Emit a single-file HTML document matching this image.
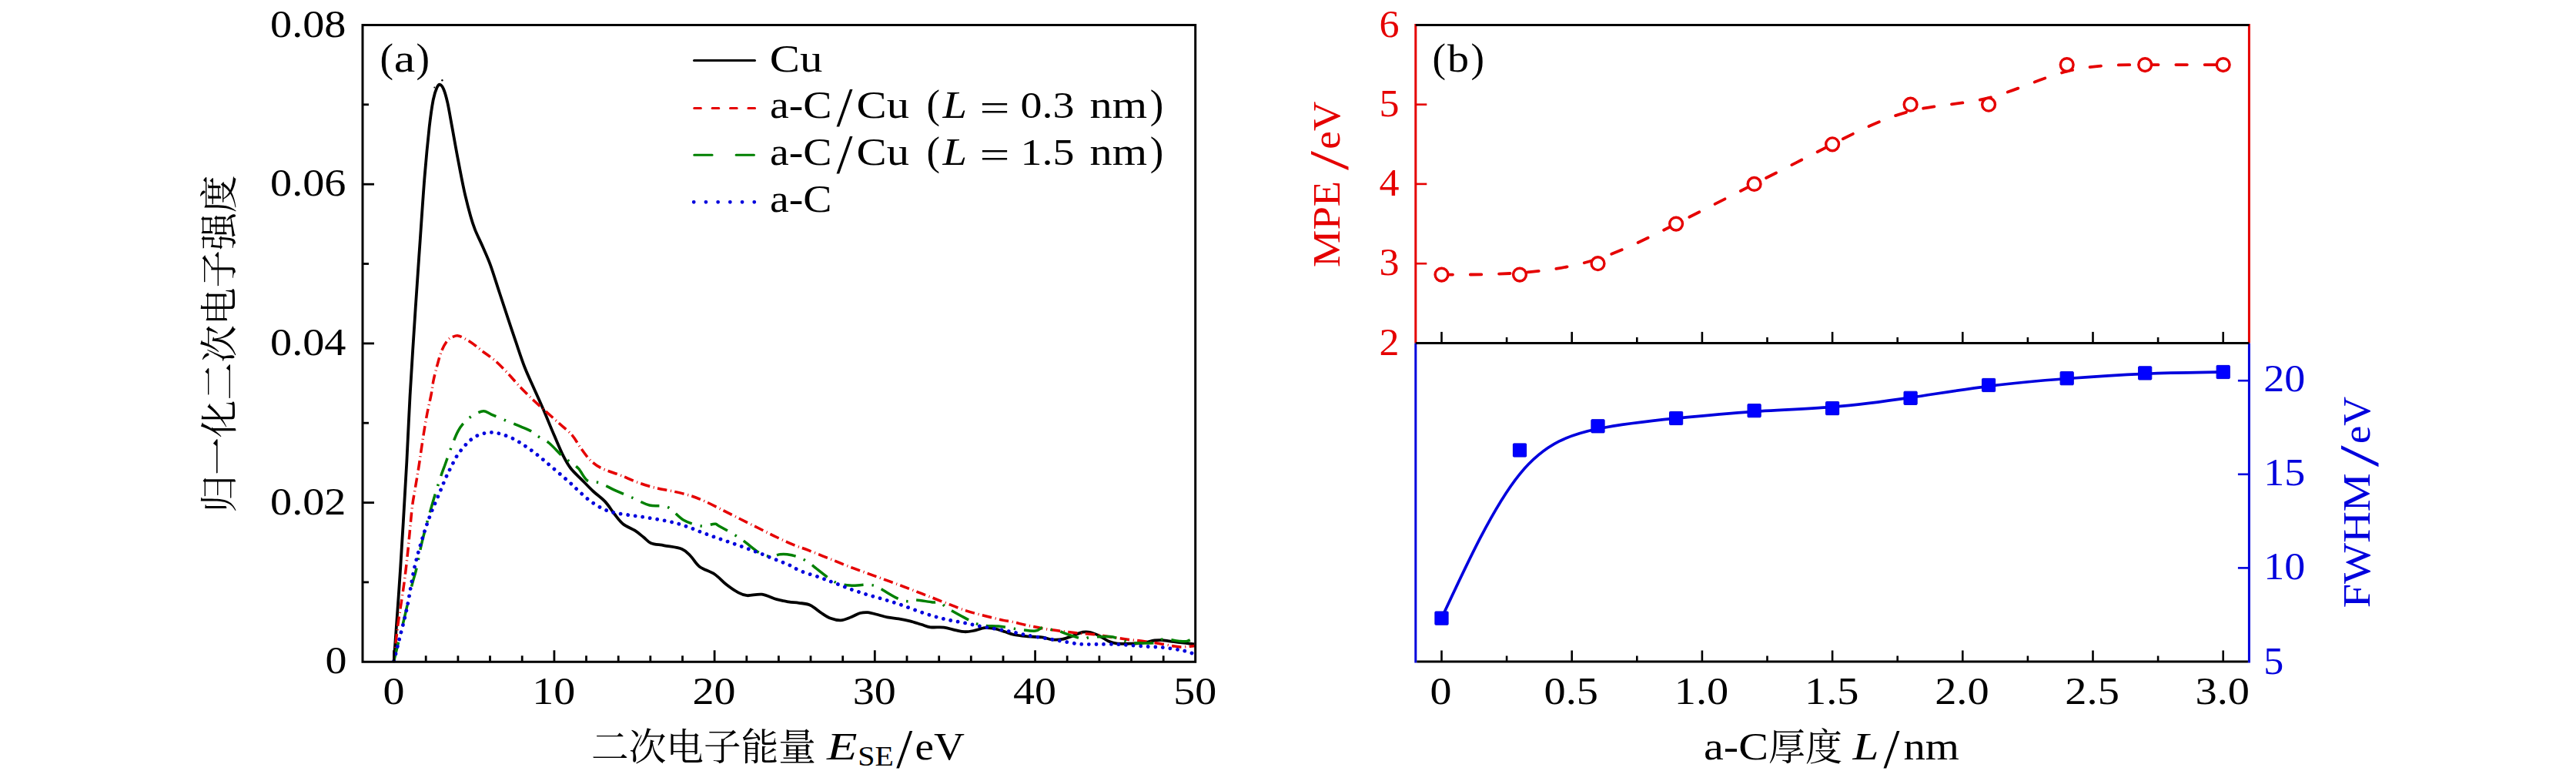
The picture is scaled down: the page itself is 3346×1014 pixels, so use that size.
<!DOCTYPE html>
<html lang="zh"><head><meta charset="utf-8"><title>SE spectra</title>
<style>html,body{margin:0;padding:0;background:#fff}svg{display:block}text{font-family:'Liberation Serif','Noto Serif CJK SC',serif;}</style>
</head><body>
<svg width="3346" height="1014" viewBox="0 0 3346 1014">
<rect width="3346" height="1014" fill="#fff"/>
<clipPath id="ca"><rect x="471.0" y="32.5" width="1081.7" height="828.3"/></clipPath>
<g clip-path="url(#ca)">
<path d="M511.7 858.0C513.1 838.3 517.2 782.8 520.0 739.8C522.8 696.8 526.2 637.8 528.3 600.0C530.4 562.2 530.7 546.5 532.6 513.2C534.5 479.9 537.5 433.5 539.7 400.0C541.9 366.5 543.7 340.8 545.7 312.3C547.7 283.8 549.6 253.5 551.6 229.0C553.6 204.5 555.8 182.0 557.6 165.4C559.5 148.8 561.1 138.3 562.7 129.7C564.4 121.1 566.0 117.1 567.5 113.8C569.0 110.5 570.0 109.5 571.5 109.8C573.0 110.1 574.6 111.8 576.2 115.8C577.9 119.8 579.5 125.4 581.4 133.7C583.2 142.0 585.0 152.8 587.3 165.4C589.6 178.0 592.6 195.2 595.3 209.1C597.9 223.0 600.6 236.9 603.2 248.8C605.9 260.7 608.9 272.3 611.2 280.6C613.5 288.9 614.5 291.8 617.1 298.4C619.7 305.0 623.7 312.7 627.0 320.3C630.3 327.9 633.4 334.2 637.0 344.1C640.6 354.1 645.0 368.5 648.8 380.0C652.6 391.5 656.3 402.8 659.8 413.3C663.3 423.8 666.2 432.7 669.8 443.2C673.4 453.7 677.5 466.5 681.4 476.5C685.3 486.5 688.9 493.8 693.1 503.2C697.3 512.6 702.0 522.8 706.4 533.1C710.8 543.4 715.5 555.1 719.7 564.8C723.9 574.5 727.8 584.2 731.4 591.4C735.0 598.6 737.3 602.8 741.3 608.0C745.3 613.2 750.5 617.6 755.4 622.6C760.3 627.6 765.6 633.2 770.7 638.0C775.8 642.8 781.6 646.6 786.1 651.4C790.6 656.2 793.8 662.0 797.6 666.8C801.5 671.6 804.7 676.6 809.2 680.2C813.7 683.9 820.0 685.8 824.5 688.7C829.0 691.6 832.5 694.8 836.0 697.5C839.5 700.2 841.1 703.4 845.6 705.2C850.1 707.0 856.2 707.0 862.9 708.3C869.6 709.6 880.2 710.5 886.0 712.9C891.8 715.3 893.7 718.7 897.5 722.5C901.3 726.3 903.9 732.1 909.0 735.9C914.1 739.7 922.4 741.6 928.2 745.5C934.0 749.4 938.5 755.0 943.6 759.0C948.7 763.0 954.5 767.0 959.0 769.4C963.5 771.8 965.4 772.8 970.5 773.2C975.6 773.6 983.3 770.9 989.7 771.7C996.1 772.5 1003.1 776.6 1008.9 778.2C1014.7 779.8 1019.5 780.5 1024.3 781.3C1029.1 782.1 1033.0 782.1 1037.7 782.8C1042.4 783.5 1047.5 783.5 1052.4 785.7C1057.3 787.9 1062.7 793.1 1067.1 796.0C1071.5 798.9 1074.7 801.2 1078.9 802.8C1083.1 804.4 1087.7 805.6 1092.1 805.4C1096.5 805.1 1101.2 802.9 1105.4 801.3C1109.6 799.7 1113.4 797.0 1117.1 796.0C1120.8 795.0 1124.0 794.9 1127.4 795.1C1130.8 795.4 1133.5 796.5 1137.7 797.5C1141.9 798.5 1147.6 800.3 1152.5 801.3C1157.4 802.3 1162.3 802.6 1167.2 803.4C1172.1 804.2 1177.0 805.1 1181.9 806.3C1186.8 807.5 1192.2 809.4 1196.6 810.7C1201.0 812.0 1203.5 813.6 1208.4 814.3C1213.3 814.9 1220.7 814.0 1226.1 814.6C1231.5 815.2 1236.4 817.2 1240.8 818.1C1245.2 819.0 1248.7 820.1 1252.6 820.2C1256.5 820.4 1259.9 819.8 1264.3 819.0C1268.7 818.2 1274.6 815.7 1279.0 815.2C1283.4 814.7 1286.4 815.2 1290.8 816.0C1295.2 816.8 1301.2 818.9 1305.5 820.2C1309.8 821.5 1312.0 823.0 1316.6 824.0C1321.2 825.0 1327.2 825.6 1333.3 826.2C1339.4 826.8 1347.8 826.7 1353.3 827.4C1358.8 828.1 1362.2 830.0 1366.6 830.4C1371.0 830.8 1375.5 830.7 1379.9 829.9C1384.3 829.1 1388.8 827.2 1393.2 825.7C1397.6 824.2 1402.6 821.5 1406.5 820.7C1410.4 819.9 1412.9 820.2 1416.5 821.0C1420.1 821.8 1424.3 823.8 1428.2 825.7C1432.1 827.6 1436.2 830.8 1439.8 832.4C1443.4 834.0 1445.4 834.8 1449.8 835.4C1454.2 836.0 1460.9 835.8 1466.4 835.7C1472.0 835.6 1477.5 835.6 1483.1 834.9C1488.6 834.2 1495.3 832.1 1499.7 831.5C1504.1 830.9 1505.5 830.9 1509.7 831.2C1513.9 831.5 1519.7 832.6 1524.7 833.2C1529.7 833.8 1535.3 834.4 1539.7 834.9C1544.1 835.4 1549.4 836.2 1551.3 836.5" fill="none" stroke="#000" stroke-width="3.8" stroke-linejoin="round"/>
<path d="M511.7 858.0C512.5 850.5 515.1 824.9 516.6 813.0C518.1 801.1 519.2 795.8 520.6 786.4C522.0 777.0 523.6 767.0 525.0 756.5C526.4 746.0 527.8 734.3 529.0 723.2C530.2 712.1 531.2 701.0 532.3 689.9C533.4 678.8 534.4 665.9 535.6 656.6C536.8 647.3 537.9 642.4 539.3 634.0C540.7 625.6 542.2 617.1 543.9 606.4C545.6 595.7 547.5 581.4 549.3 569.7C551.1 558.1 553.1 545.9 554.9 536.5C556.7 527.1 558.5 520.4 559.9 513.2C561.3 506.0 561.8 499.9 563.2 493.2C564.6 486.5 566.4 479.6 568.2 473.2C570.0 466.8 571.7 460.2 573.9 454.9C576.1 449.6 579.2 444.5 581.6 441.6C584.0 438.7 586.0 438.2 588.2 437.3C590.4 436.4 592.4 435.6 594.9 435.9C597.4 436.2 599.9 437.5 603.2 439.3C606.5 441.1 610.9 443.8 614.8 446.6C618.7 449.4 621.8 452.3 626.5 455.9C631.2 459.5 637.6 463.4 643.1 468.2C648.6 473.0 654.2 479.1 659.8 484.9C665.3 490.7 670.8 497.4 676.4 503.2C682.0 509.0 687.5 514.5 693.1 519.8C698.7 525.1 704.2 529.8 709.7 534.8C715.2 539.8 720.9 544.8 726.4 549.8C731.9 554.8 738.5 559.7 743.0 564.8C747.5 569.9 749.4 574.8 753.4 580.3C757.4 585.8 762.1 592.9 766.9 597.6C771.7 602.3 775.9 605.2 782.3 608.4C788.7 611.6 797.6 613.8 805.3 616.8C813.0 619.8 820.7 623.6 828.4 626.4C836.1 629.2 843.7 631.5 851.4 633.4C859.1 635.3 866.8 636.3 874.5 638.0C882.2 639.7 890.5 641.5 897.5 643.7C904.5 645.9 909.7 648.2 916.7 651.4C923.8 654.6 932.1 659.0 939.8 662.9C947.5 666.8 955.1 670.6 962.8 674.5C970.5 678.4 978.2 682.2 985.9 686.0C993.6 689.8 1001.2 693.9 1008.9 697.5C1016.6 701.1 1025.2 705.1 1032.0 707.9C1038.8 710.7 1041.6 711.2 1049.4 714.2C1057.2 717.2 1069.1 722.1 1078.9 726.0C1088.7 729.9 1098.5 734.0 1108.3 737.7C1118.1 741.4 1127.9 744.7 1137.7 748.3C1147.5 751.9 1157.4 755.5 1167.2 759.2C1177.0 762.9 1186.8 766.6 1196.6 770.4C1206.4 774.2 1216.3 778.1 1226.1 781.9C1235.9 785.7 1245.7 789.9 1255.5 793.1C1265.3 796.3 1276.9 799.0 1284.9 801.0C1292.9 803.0 1298.3 804.3 1303.3 805.4C1308.3 806.5 1309.5 806.2 1315.0 807.4C1320.5 808.6 1329.4 810.9 1336.6 812.4C1343.8 813.9 1350.8 815.4 1358.3 816.6C1365.8 817.9 1374.4 819.0 1381.6 819.9C1388.8 820.8 1394.8 821.5 1401.5 822.1C1408.2 822.7 1414.3 822.8 1421.5 823.7C1428.7 824.6 1437.3 826.3 1444.8 827.4C1452.3 828.5 1459.2 829.5 1466.4 830.4C1473.6 831.3 1480.9 831.9 1488.1 832.9C1495.3 833.9 1502.2 835.0 1509.7 836.2C1517.2 837.4 1525.9 839.5 1533.0 839.9C1540.1 840.3 1549.0 838.7 1552.2 838.5" fill="none" stroke="#e50000" stroke-width="3.5" stroke-linejoin="round" stroke-dasharray="12.5 4.8 1 4.4"/>
<path d="M511.7 858.0C512.8 853.7 515.5 842.3 518.0 832.0C520.5 821.7 523.8 808.4 526.6 796.4C529.4 784.4 532.6 769.5 535.0 759.8C537.4 750.1 538.8 747.4 541.0 738.0C543.2 728.6 545.1 716.2 548.3 703.2C551.4 690.2 556.0 673.5 559.9 659.9C563.8 646.3 568.5 631.0 571.6 621.5C574.7 612.0 575.7 610.0 578.2 603.0C580.7 596.0 583.8 586.9 586.6 579.7C589.4 572.5 591.9 565.3 594.9 559.8C597.9 554.3 601.3 550.1 604.9 546.5C608.5 542.9 612.6 540.2 616.5 538.1C620.4 536.0 624.6 533.8 628.2 533.8C631.8 533.8 633.5 536.1 638.2 538.1C642.9 540.1 650.1 543.2 656.5 545.8C662.9 548.4 670.9 551.5 676.4 553.8C681.9 556.1 685.8 557.5 689.7 559.7C693.6 561.9 695.8 564.5 699.7 567.0C703.6 569.5 708.0 570.9 713.0 575.0C718.0 579.1 725.2 587.3 729.7 591.4C734.2 595.5 736.4 596.7 740.0 599.5C743.6 602.3 747.7 604.3 751.5 608.4C755.3 612.5 758.5 620.9 763.0 624.0C767.5 627.1 772.3 624.7 778.4 626.8C784.5 628.9 792.1 633.5 799.5 636.8C806.9 640.1 815.2 643.6 822.6 646.8C830.0 650.0 836.3 654.1 843.7 656.0C851.1 657.9 859.4 655.1 866.8 658.3C874.2 661.5 880.5 671.1 887.9 675.2C895.3 679.3 904.3 682.1 911.0 682.9C917.7 683.7 924.4 680.2 928.2 680.2C932.0 680.2 928.4 679.7 934.0 682.9C939.6 686.1 953.4 693.6 962.0 699.4C970.6 705.2 979.4 713.6 985.9 717.5C992.4 721.4 996.7 722.1 1001.2 722.5C1005.7 722.9 1009.3 720.2 1012.8 719.8C1016.3 719.3 1018.0 719.1 1022.4 719.8C1026.8 720.5 1034.1 721.9 1039.1 723.9C1044.1 725.9 1049.0 729.5 1052.4 731.8C1055.8 734.1 1055.5 734.5 1059.7 737.7C1063.9 741.0 1072.7 748.1 1077.4 751.3C1082.1 754.5 1083.6 755.5 1088.0 757.0C1092.4 758.5 1097.6 759.7 1103.9 760.1C1110.2 760.5 1120.5 759.1 1126.0 759.2C1131.5 759.3 1133.5 759.6 1136.9 760.7C1140.3 761.8 1141.8 763.3 1146.6 766.0C1151.4 768.7 1160.3 774.4 1165.7 776.9C1171.1 779.4 1175.1 780.4 1179.0 780.7C1182.9 781.0 1183.9 778.7 1189.3 778.9C1194.7 779.1 1206.0 781.4 1211.3 781.9C1216.6 782.4 1217.8 780.7 1221.0 782.0C1224.2 783.3 1225.2 786.2 1230.5 789.5C1235.8 792.8 1246.5 798.6 1252.6 801.9C1258.7 805.2 1262.9 807.6 1267.3 809.3C1271.7 811.0 1274.1 811.6 1279.0 812.2C1283.9 812.8 1291.0 812.6 1296.7 813.1C1302.4 813.6 1308.9 814.7 1313.3 815.4C1317.7 816.1 1318.0 816.5 1323.3 817.1C1328.6 817.7 1339.6 819.6 1344.9 819.1C1350.2 818.6 1351.4 814.7 1354.9 814.4C1358.4 814.1 1362.9 816.8 1365.7 817.4C1368.5 818.0 1367.0 816.5 1371.6 817.9C1376.2 819.3 1387.2 823.8 1393.2 825.7C1399.2 827.6 1403.5 829.2 1407.4 829.5C1411.3 829.8 1410.8 827.9 1416.5 827.4C1422.2 826.9 1434.4 826.0 1441.5 826.6C1448.6 827.2 1454.8 829.9 1459.0 831.2C1463.2 832.5 1462.4 833.9 1466.4 834.5C1470.4 835.1 1477.4 834.9 1483.1 834.9C1488.8 834.9 1496.0 835.3 1500.6 834.5C1505.2 833.7 1505.2 830.2 1510.6 829.9C1516.0 829.5 1527.7 832.0 1533.0 832.4C1538.3 832.8 1539.0 833.2 1542.2 832.4C1545.4 831.6 1550.5 828.2 1552.2 827.4" fill="none" stroke="#008000" stroke-width="3.5" stroke-linejoin="round" stroke-dasharray="25 11 2.5 11"/>
<path d="M511.7 858.0C512.8 853.6 515.5 842.6 518.3 831.4C521.1 820.2 524.9 806.6 528.3 790.7C531.7 774.8 535.0 751.6 538.6 735.8C542.2 720.0 546.2 707.3 549.6 695.9C553.0 684.5 555.9 676.6 559.3 667.6C562.7 658.6 566.8 649.7 570.2 641.6C573.6 633.5 576.9 625.1 579.5 619.3C582.1 613.5 583.3 611.5 585.6 607.0C587.9 602.5 590.6 596.7 593.2 592.4C595.9 588.1 598.7 584.7 601.5 581.4C604.3 578.1 606.9 575.0 609.9 572.4C612.9 569.8 616.5 567.4 619.8 565.7C623.1 564.0 626.8 563.1 629.8 562.4C632.8 561.7 635.3 561.4 638.1 561.4C640.9 561.4 643.4 561.7 646.5 562.4C649.6 563.1 652.9 564.1 656.5 565.4C660.1 566.7 664.5 568.6 668.1 570.4C671.7 572.2 674.8 574.3 678.1 576.4C681.4 578.5 684.8 580.7 688.1 583.1C691.4 585.5 694.8 588.1 698.1 590.7C701.4 593.4 704.8 596.2 708.1 599.0C711.4 601.8 714.4 604.3 718.0 607.4C721.6 610.5 725.8 614.0 729.7 617.4C733.6 620.8 737.3 624.0 741.3 627.6C745.2 631.2 749.1 635.3 753.4 639.1C757.7 642.9 762.1 647.1 766.9 650.6C771.7 654.1 777.2 657.7 782.3 660.2C787.4 662.7 791.9 664.2 797.6 665.6C803.4 667.0 810.4 667.7 816.8 668.7C823.2 669.7 829.6 670.4 836.0 671.4C842.4 672.4 848.9 673.4 855.3 674.5C861.7 675.6 868.1 676.7 874.5 678.3C880.9 679.9 887.3 681.9 893.7 684.1C900.1 686.3 906.5 689.3 912.9 691.7C919.3 694.1 925.7 696.5 932.1 698.7C938.5 701.0 944.9 703.0 951.3 705.2C957.7 707.4 964.1 709.7 970.5 712.1C976.9 714.5 983.3 716.9 989.7 719.4C996.1 721.9 1003.1 724.8 1008.9 727.1C1014.7 729.4 1019.0 730.8 1024.3 733.2C1029.6 735.6 1033.9 738.9 1040.6 741.6C1047.2 744.3 1056.8 746.9 1064.2 749.5C1071.6 752.1 1077.9 754.6 1084.8 757.2C1091.7 759.8 1098.5 762.7 1105.4 765.1C1112.3 767.5 1119.1 769.8 1126.0 771.9C1132.9 774.0 1139.7 775.8 1146.6 777.8C1153.5 779.8 1160.1 781.8 1167.2 784.2C1174.3 786.6 1182.0 789.6 1189.3 792.2C1196.6 794.8 1204.2 797.5 1211.3 799.6C1218.4 801.7 1225.1 803.4 1232.0 804.9C1238.9 806.4 1245.7 807.3 1252.6 808.7C1259.5 810.1 1266.3 811.8 1273.2 813.1C1280.1 814.4 1287.1 815.4 1293.8 816.6C1300.5 817.8 1306.7 818.9 1313.3 820.2C1319.9 821.5 1326.4 823.3 1333.3 824.6C1340.2 825.9 1347.7 827.0 1354.9 828.2C1362.1 829.4 1369.4 830.8 1376.6 832.0C1383.8 833.2 1393.1 835.0 1398.2 835.7C1403.3 836.5 1402.6 836.4 1407.4 836.5C1412.2 836.6 1420.2 836.5 1427.3 836.5C1434.4 836.5 1443.3 836.3 1449.8 836.5C1456.3 836.7 1459.5 837.2 1466.4 837.7C1473.3 838.2 1483.9 839.0 1491.4 839.5C1498.9 840.0 1504.7 840.0 1511.4 840.7C1518.1 841.4 1526.3 842.8 1531.4 843.7C1536.5 844.6 1538.7 845.0 1542.2 846.0C1545.7 847.0 1550.5 848.8 1552.2 849.4" fill="none" stroke="#0000dd" stroke-width="4.8" stroke-linejoin="round" stroke-dasharray="0.01 9.6" stroke-linecap="round"/>
</g>
<circle cx="574.4" cy="104.3" r="1.2" fill="#000"/><circle cx="564.3" cy="113.6" r="1" fill="#000"/>
<rect x="471.0" y="32.5" width="1081.7" height="826.8" fill="none" stroke="#000" stroke-width="3"/>
<line x1="511.6" y1="859.3" x2="511.6" y2="844.3" stroke="#000" stroke-width="2.8"/>
<line x1="553.2" y1="859.3" x2="553.2" y2="851.3" stroke="#000" stroke-width="2.8"/>
<line x1="594.9" y1="859.3" x2="594.9" y2="851.3" stroke="#000" stroke-width="2.8"/>
<line x1="636.5" y1="859.3" x2="636.5" y2="851.3" stroke="#000" stroke-width="2.8"/>
<line x1="678.2" y1="859.3" x2="678.2" y2="851.3" stroke="#000" stroke-width="2.8"/>
<line x1="719.9" y1="859.3" x2="719.9" y2="844.3" stroke="#000" stroke-width="2.8"/>
<line x1="761.5" y1="859.3" x2="761.5" y2="851.3" stroke="#000" stroke-width="2.8"/>
<line x1="803.2" y1="859.3" x2="803.2" y2="851.3" stroke="#000" stroke-width="2.8"/>
<line x1="844.8" y1="859.3" x2="844.8" y2="851.3" stroke="#000" stroke-width="2.8"/>
<line x1="886.5" y1="859.3" x2="886.5" y2="851.3" stroke="#000" stroke-width="2.8"/>
<line x1="928.1" y1="859.3" x2="928.1" y2="844.3" stroke="#000" stroke-width="2.8"/>
<line x1="969.8" y1="859.3" x2="969.8" y2="851.3" stroke="#000" stroke-width="2.8"/>
<line x1="1011.4" y1="859.3" x2="1011.4" y2="851.3" stroke="#000" stroke-width="2.8"/>
<line x1="1053.0" y1="859.3" x2="1053.0" y2="851.3" stroke="#000" stroke-width="2.8"/>
<line x1="1094.7" y1="859.3" x2="1094.7" y2="851.3" stroke="#000" stroke-width="2.8"/>
<line x1="1136.3" y1="859.3" x2="1136.3" y2="844.3" stroke="#000" stroke-width="2.8"/>
<line x1="1178.0" y1="859.3" x2="1178.0" y2="851.3" stroke="#000" stroke-width="2.8"/>
<line x1="1219.7" y1="859.3" x2="1219.7" y2="851.3" stroke="#000" stroke-width="2.8"/>
<line x1="1261.3" y1="859.3" x2="1261.3" y2="851.3" stroke="#000" stroke-width="2.8"/>
<line x1="1303.0" y1="859.3" x2="1303.0" y2="851.3" stroke="#000" stroke-width="2.8"/>
<line x1="1344.6" y1="859.3" x2="1344.6" y2="844.3" stroke="#000" stroke-width="2.8"/>
<line x1="1386.2" y1="859.3" x2="1386.2" y2="851.3" stroke="#000" stroke-width="2.8"/>
<line x1="1427.9" y1="859.3" x2="1427.9" y2="851.3" stroke="#000" stroke-width="2.8"/>
<line x1="1469.5" y1="859.3" x2="1469.5" y2="851.3" stroke="#000" stroke-width="2.8"/>
<line x1="1511.2" y1="859.3" x2="1511.2" y2="851.3" stroke="#000" stroke-width="2.8"/>
<line x1="471.0" y1="755.9" x2="479.0" y2="755.9" stroke="#000" stroke-width="2.8"/>
<line x1="471.0" y1="652.6" x2="486.0" y2="652.6" stroke="#000" stroke-width="2.8"/>
<line x1="471.0" y1="549.2" x2="479.0" y2="549.2" stroke="#000" stroke-width="2.8"/>
<line x1="471.0" y1="445.9" x2="486.0" y2="445.9" stroke="#000" stroke-width="2.8"/>
<line x1="471.0" y1="342.5" x2="479.0" y2="342.5" stroke="#000" stroke-width="2.8"/>
<line x1="471.0" y1="239.2" x2="486.0" y2="239.2" stroke="#000" stroke-width="2.8"/>
<line x1="471.0" y1="135.8" x2="479.0" y2="135.8" stroke="#000" stroke-width="2.8"/>
<text x="449.5" y="47.7" font-size="50" fill="#000" text-anchor="end" textLength="98.5" lengthAdjust="spacingAndGlyphs">0.08</text>
<text x="449.5" y="254.4" font-size="50" fill="#000" text-anchor="end" textLength="98.5" lengthAdjust="spacingAndGlyphs">0.06</text>
<text x="449.5" y="461.1" font-size="50" fill="#000" text-anchor="end" textLength="98.5" lengthAdjust="spacingAndGlyphs">0.04</text>
<text x="449.5" y="667.8" font-size="50" fill="#000" text-anchor="end" textLength="98.5" lengthAdjust="spacingAndGlyphs">0.02</text>
<text x="450.5" y="873.5" font-size="50" fill="#000" text-anchor="end" textLength="28.0" lengthAdjust="spacingAndGlyphs">0</text>
<text x="511.6" y="914.0" font-size="50" fill="#000" text-anchor="middle" textLength="28.0" lengthAdjust="spacingAndGlyphs">0</text>
<text x="719.2" y="914.0" font-size="50" fill="#000" text-anchor="middle" textLength="56.0" lengthAdjust="spacingAndGlyphs">10</text>
<text x="927.5" y="914.0" font-size="50" fill="#000" text-anchor="middle" textLength="56.0" lengthAdjust="spacingAndGlyphs">20</text>
<text x="1135.8" y="914.0" font-size="50" fill="#000" text-anchor="middle" textLength="56.0" lengthAdjust="spacingAndGlyphs">30</text>
<text x="1344.0" y="914.0" font-size="50" fill="#000" text-anchor="middle" textLength="56.0" lengthAdjust="spacingAndGlyphs">40</text>
<text x="1552.2" y="914.0" font-size="50" fill="#000" text-anchor="middle" textLength="56.0" lengthAdjust="spacingAndGlyphs">50</text>
<text x="493.5" y="93.4" font-size="53.3" fill="#000" textLength="17.5" lengthAdjust="spacingAndGlyphs">(</text>
<text x="511.8" y="93.4" font-size="50" fill="#000" textLength="27.5" lengthAdjust="spacingAndGlyphs">a</text>
<text x="540.5" y="93.4" font-size="53.3" fill="#000" textLength="17.5" lengthAdjust="spacingAndGlyphs">)</text>
<text x="0" y="0" transform="translate(302.3 446.5) rotate(-90)" font-size="48.4" fill="#000" text-anchor="middle" textLength="438.0" lengthAdjust="spacingAndGlyphs">归一化二次电子强度</text>
<text x="768.0" y="987.0" font-size="48.4" fill="#000" textLength="292.0" lengthAdjust="spacingAndGlyphs">二次电子能量</text>
<text x="1074.0" y="985.9" font-size="50" fill="#000" font-style="italic" textLength="39.5" lengthAdjust="spacingAndGlyphs">E</text>
<text x="1114.3" y="994.3" font-size="36" fill="#000" textLength="46.5" lengthAdjust="spacingAndGlyphs">SE</text>
<text x="1164.2" y="995.9" font-size="72" fill="#000" textLength="21.0" lengthAdjust="spacingAndGlyphs">/</text>
<text x="1188.5" y="985.9" font-size="50" fill="#000" textLength="64.5" lengthAdjust="spacingAndGlyphs">eV</text>
<path d="M901.5 78.4H980.5" stroke="#000" stroke-width="3" stroke-linecap="round"/>
<path d="M901.7 140.6H982.3" stroke="#e50000" stroke-width="3" stroke-dasharray="8.7 14.7" stroke-linecap="round"/>
<path d="M901.7 201.2H982.3" stroke="#008000" stroke-width="3" stroke-dasharray="23.4 31" stroke-linecap="round"/>
<path d="M901.2 262.3H982.3" stroke="#0000dd" stroke-width="4.8" stroke-dasharray="0.01 15.7" stroke-linecap="round"/>
<text x="999.8" y="92.9" font-size="50" fill="#000" textLength="68.5" lengthAdjust="spacingAndGlyphs">Cu</text>
<text x="1000.0" y="152.8" font-size="50" fill="#000" textLength="80.5" lengthAdjust="spacingAndGlyphs">a-C</text>
<text x="1086.5" y="162.8" font-size="72" fill="#000" textLength="21.0" lengthAdjust="spacingAndGlyphs">/</text>
<text x="1112.5" y="152.8" font-size="50" fill="#000" textLength="68.5" lengthAdjust="spacingAndGlyphs">Cu</text>
<text x="1203.5" y="152.8" font-size="53.3" fill="#000" textLength="17.5" lengthAdjust="spacingAndGlyphs">(</text>
<text x="1224.5" y="152.8" font-size="50" fill="#000" font-style="italic" textLength="31.5" lengthAdjust="spacingAndGlyphs">L</text>
<text x="1272.5" y="156.8" font-size="50" fill="#000" textLength="39.0" lengthAdjust="spacingAndGlyphs">=</text>
<text x="1325.5" y="152.8" font-size="49.5" fill="#000" textLength="70.0" lengthAdjust="spacingAndGlyphs">0.3</text>
<text x="1415.5" y="152.8" font-size="50" fill="#000" textLength="74.5" lengthAdjust="spacingAndGlyphs">nm</text>
<text x="1493.7" y="152.8" font-size="53.3" fill="#000" textLength="17.5" lengthAdjust="spacingAndGlyphs">)</text>
<text x="1000.0" y="213.6" font-size="50" fill="#000" textLength="80.5" lengthAdjust="spacingAndGlyphs">a-C</text>
<text x="1086.5" y="223.6" font-size="72" fill="#000" textLength="21.0" lengthAdjust="spacingAndGlyphs">/</text>
<text x="1112.5" y="213.6" font-size="50" fill="#000" textLength="68.5" lengthAdjust="spacingAndGlyphs">Cu</text>
<text x="1203.5" y="213.6" font-size="53.3" fill="#000" textLength="17.5" lengthAdjust="spacingAndGlyphs">(</text>
<text x="1224.5" y="213.6" font-size="50" fill="#000" font-style="italic" textLength="31.5" lengthAdjust="spacingAndGlyphs">L</text>
<text x="1272.5" y="217.6" font-size="50" fill="#000" textLength="39.0" lengthAdjust="spacingAndGlyphs">=</text>
<text x="1325.5" y="213.6" font-size="49.5" fill="#000" textLength="70.0" lengthAdjust="spacingAndGlyphs">1.5</text>
<text x="1415.5" y="213.6" font-size="50" fill="#000" textLength="74.5" lengthAdjust="spacingAndGlyphs">nm</text>
<text x="1493.7" y="213.6" font-size="53.3" fill="#000" textLength="17.5" lengthAdjust="spacingAndGlyphs">)</text>
<text x="1000.0" y="274.7" font-size="50" fill="#000" textLength="80.5" lengthAdjust="spacingAndGlyphs">a-C</text>
<path d="M1872.5 356.6C1906.3 356.6 1940.2 356.6 1974.0 354.2C2007.9 351.8 2041.7 347.0 2075.5 336.0C2109.4 325.0 2143.2 307.8 2177.1 290.6C2210.9 273.4 2244.7 256.2 2278.6 238.9C2312.4 221.7 2346.3 204.5 2380.1 187.3C2413.9 170.1 2447.8 152.9 2481.6 144.3C2515.5 135.7 2549.3 135.7 2583.1 127.1C2617.0 118.5 2650.8 101.3 2684.7 92.7C2718.5 84.1 2752.3 84.1 2786.2 84.1C2820.0 84.1 2853.9 84.1 2887.7 84.1" fill="none" stroke="#e50000" stroke-width="3.8" stroke-linejoin="round" stroke-dasharray="14.5 22.8" stroke-linecap="round"/>
<circle cx="1872.5" cy="356.6" r="8.4" fill="#fff" stroke="#e50000" stroke-width="3.4"/>
<circle cx="1974.0" cy="356.6" r="8.4" fill="#fff" stroke="#e50000" stroke-width="3.4"/>
<circle cx="2075.5" cy="342.2" r="8.4" fill="#fff" stroke="#e50000" stroke-width="3.4"/>
<circle cx="2177.1" cy="290.6" r="8.4" fill="#fff" stroke="#e50000" stroke-width="3.4"/>
<circle cx="2278.6" cy="238.9" r="8.4" fill="#fff" stroke="#e50000" stroke-width="3.4"/>
<circle cx="2380.1" cy="187.3" r="8.4" fill="#fff" stroke="#e50000" stroke-width="3.4"/>
<circle cx="2481.6" cy="135.7" r="8.4" fill="#fff" stroke="#e50000" stroke-width="3.4"/>
<circle cx="2583.1" cy="135.7" r="8.4" fill="#fff" stroke="#e50000" stroke-width="3.4"/>
<circle cx="2684.7" cy="84.1" r="8.4" fill="#fff" stroke="#e50000" stroke-width="3.4"/>
<circle cx="2786.2" cy="84.1" r="8.4" fill="#fff" stroke="#e50000" stroke-width="3.4"/>
<circle cx="2887.7" cy="84.1" r="8.4" fill="#fff" stroke="#e50000" stroke-width="3.4"/>
<path d="M1872.5 802.6C1906.3 729.9 1940.2 657.2 1974.0 615.6C2007.9 574.1 2041.7 563.7 2075.5 556.8C2109.4 549.9 2143.2 546.4 2177.1 543.1C2210.9 539.7 2244.7 536.5 2278.6 534.3C2312.4 532.2 2346.3 531.1 2380.1 528.4C2413.9 525.7 2447.8 521.2 2481.6 516.2C2515.5 511.2 2549.3 505.6 2583.1 501.3C2617.0 497.1 2650.8 494.1 2684.7 491.5C2718.5 488.9 2752.3 486.7 2786.2 485.3C2820.0 483.9 2853.9 483.5 2887.7 483.0" fill="none" stroke="#0000dd" stroke-width="3.7" stroke-linejoin="round"/>
<rect x="1863.9" y="794.0" width="17.2" height="17.2" rx="1" fill="#0000ff" stroke="#0000dd" stroke-width="1"/>
<rect x="1965.4" y="575.9" width="17.2" height="17.2" rx="1" fill="#0000ff" stroke="#0000dd" stroke-width="1"/>
<rect x="2066.9" y="544.7" width="17.2" height="17.2" rx="1" fill="#0000ff" stroke="#0000dd" stroke-width="1"/>
<rect x="2168.5" y="534.4" width="17.2" height="17.2" rx="1" fill="#0000ff" stroke="#0000dd" stroke-width="1"/>
<rect x="2270.0" y="524.6" width="17.2" height="17.2" rx="1" fill="#0000ff" stroke="#0000dd" stroke-width="1"/>
<rect x="2371.5" y="521.5" width="17.2" height="17.2" rx="1" fill="#0000ff" stroke="#0000dd" stroke-width="1"/>
<rect x="2473.0" y="508.2" width="17.2" height="17.2" rx="1" fill="#0000ff" stroke="#0000dd" stroke-width="1"/>
<rect x="2574.5" y="491.4" width="17.2" height="17.2" rx="1" fill="#0000ff" stroke="#0000dd" stroke-width="1"/>
<rect x="2676.1" y="482.6" width="17.2" height="17.2" rx="1" fill="#0000ff" stroke="#0000dd" stroke-width="1"/>
<rect x="2777.6" y="475.8" width="17.2" height="17.2" rx="1" fill="#0000ff" stroke="#0000dd" stroke-width="1"/>
<rect x="2879.1" y="474.4" width="17.2" height="17.2" rx="1" fill="#0000ff" stroke="#0000dd" stroke-width="1"/>
<line x1="1838.8" y1="31.0" x2="1838.8" y2="445.4" stroke="#e50000" stroke-width="3"/>
<line x1="1838.8" y1="445.4" x2="1838.8" y2="860.5" stroke="#0000dd" stroke-width="3"/>
<line x1="2921.4" y1="31.0" x2="2921.4" y2="445.4" stroke="#e50000" stroke-width="3"/>
<line x1="2921.4" y1="445.4" x2="2921.4" y2="860.5" stroke="#0000dd" stroke-width="3"/>
<line x1="1838.8" y1="32.5" x2="2921.4" y2="32.5" stroke="#000" stroke-width="3"/>
<line x1="1838.8" y1="445.4" x2="2921.4" y2="445.4" stroke="#000" stroke-width="3"/>
<line x1="1840.3" y1="859.0" x2="2919.9" y2="859.0" stroke="#000" stroke-width="3"/>
<line x1="1872.5" y1="445.4" x2="1872.5" y2="430.9" stroke="#000" stroke-width="2.6"/>
<line x1="1872.5" y1="859.0" x2="1872.5" y2="844.5" stroke="#000" stroke-width="2.6"/>
<line x1="1957.1" y1="445.4" x2="1957.1" y2="437.9" stroke="#000" stroke-width="2.6"/>
<line x1="1957.1" y1="859.0" x2="1957.1" y2="851.5" stroke="#000" stroke-width="2.6"/>
<line x1="2041.7" y1="445.4" x2="2041.7" y2="430.9" stroke="#000" stroke-width="2.6"/>
<line x1="2041.7" y1="859.0" x2="2041.7" y2="844.5" stroke="#000" stroke-width="2.6"/>
<line x1="2126.3" y1="445.4" x2="2126.3" y2="437.9" stroke="#000" stroke-width="2.6"/>
<line x1="2126.3" y1="859.0" x2="2126.3" y2="851.5" stroke="#000" stroke-width="2.6"/>
<line x1="2210.9" y1="445.4" x2="2210.9" y2="430.9" stroke="#000" stroke-width="2.6"/>
<line x1="2210.9" y1="859.0" x2="2210.9" y2="844.5" stroke="#000" stroke-width="2.6"/>
<line x1="2295.5" y1="445.4" x2="2295.5" y2="437.9" stroke="#000" stroke-width="2.6"/>
<line x1="2295.5" y1="859.0" x2="2295.5" y2="851.5" stroke="#000" stroke-width="2.6"/>
<line x1="2380.1" y1="445.4" x2="2380.1" y2="430.9" stroke="#000" stroke-width="2.6"/>
<line x1="2380.1" y1="859.0" x2="2380.1" y2="844.5" stroke="#000" stroke-width="2.6"/>
<line x1="2464.7" y1="445.4" x2="2464.7" y2="437.9" stroke="#000" stroke-width="2.6"/>
<line x1="2464.7" y1="859.0" x2="2464.7" y2="851.5" stroke="#000" stroke-width="2.6"/>
<line x1="2549.3" y1="445.4" x2="2549.3" y2="430.9" stroke="#000" stroke-width="2.6"/>
<line x1="2549.3" y1="859.0" x2="2549.3" y2="844.5" stroke="#000" stroke-width="2.6"/>
<line x1="2633.9" y1="445.4" x2="2633.9" y2="437.9" stroke="#000" stroke-width="2.6"/>
<line x1="2633.9" y1="859.0" x2="2633.9" y2="851.5" stroke="#000" stroke-width="2.6"/>
<line x1="2718.5" y1="445.4" x2="2718.5" y2="430.9" stroke="#000" stroke-width="2.6"/>
<line x1="2718.5" y1="859.0" x2="2718.5" y2="844.5" stroke="#000" stroke-width="2.6"/>
<line x1="2803.1" y1="445.4" x2="2803.1" y2="437.9" stroke="#000" stroke-width="2.6"/>
<line x1="2803.1" y1="859.0" x2="2803.1" y2="851.5" stroke="#000" stroke-width="2.6"/>
<line x1="2887.7" y1="445.4" x2="2887.7" y2="430.9" stroke="#000" stroke-width="2.6"/>
<line x1="2887.7" y1="859.0" x2="2887.7" y2="844.5" stroke="#000" stroke-width="2.6"/>
<line x1="1838.8" y1="342.2" x2="1853.3" y2="342.2" stroke="#e50000" stroke-width="2.6"/>
<line x1="1838.8" y1="238.9" x2="1853.3" y2="238.9" stroke="#e50000" stroke-width="2.6"/>
<line x1="1838.8" y1="135.7" x2="1853.3" y2="135.7" stroke="#e50000" stroke-width="2.6"/>
<line x1="2921.4" y1="737.4" x2="2906.9" y2="737.4" stroke="#0000dd" stroke-width="2.6"/>
<line x1="2921.4" y1="615.8" x2="2906.9" y2="615.8" stroke="#0000dd" stroke-width="2.6"/>
<line x1="2921.4" y1="494.2" x2="2906.9" y2="494.2" stroke="#0000dd" stroke-width="2.6"/>
<text x="1817.5" y="460.6" font-size="50" fill="#e50000" text-anchor="end" textLength="26.0" lengthAdjust="spacingAndGlyphs">2</text>
<text x="1817.5" y="357.4" font-size="50" fill="#e50000" text-anchor="end" textLength="26.0" lengthAdjust="spacingAndGlyphs">3</text>
<text x="1817.5" y="254.1" font-size="50" fill="#e50000" text-anchor="end" textLength="26.0" lengthAdjust="spacingAndGlyphs">4</text>
<text x="1817.5" y="150.9" font-size="50" fill="#e50000" text-anchor="end" textLength="26.0" lengthAdjust="spacingAndGlyphs">5</text>
<text x="1817.5" y="47.7" font-size="50" fill="#e50000" text-anchor="end" textLength="26.0" lengthAdjust="spacingAndGlyphs">6</text>
<text x="2940.3" y="874.6" font-size="50" fill="#0000dd" textLength="26.0" lengthAdjust="spacingAndGlyphs">5</text>
<text x="2940.3" y="751.5" font-size="50" fill="#0000dd" textLength="54.0" lengthAdjust="spacingAndGlyphs">10</text>
<text x="2940.3" y="629.9" font-size="50" fill="#0000dd" textLength="54.0" lengthAdjust="spacingAndGlyphs">15</text>
<text x="2940.3" y="508.3" font-size="50" fill="#0000dd" textLength="54.0" lengthAdjust="spacingAndGlyphs">20</text>
<text x="1871.6" y="914.0" font-size="50" fill="#000" text-anchor="middle" textLength="28.0" lengthAdjust="spacingAndGlyphs">0</text>
<text x="2040.8" y="914.0" font-size="50" fill="#000" text-anchor="middle" textLength="70.5" lengthAdjust="spacingAndGlyphs">0.5</text>
<text x="2210.0" y="914.0" font-size="50" fill="#000" text-anchor="middle" textLength="70.5" lengthAdjust="spacingAndGlyphs">1.0</text>
<text x="2379.2" y="914.0" font-size="50" fill="#000" text-anchor="middle" textLength="70.5" lengthAdjust="spacingAndGlyphs">1.5</text>
<text x="2548.4" y="914.0" font-size="50" fill="#000" text-anchor="middle" textLength="70.5" lengthAdjust="spacingAndGlyphs">2.0</text>
<text x="2717.6" y="914.0" font-size="50" fill="#000" text-anchor="middle" textLength="70.5" lengthAdjust="spacingAndGlyphs">2.5</text>
<text x="2886.8" y="914.0" font-size="50" fill="#000" text-anchor="middle" textLength="70.5" lengthAdjust="spacingAndGlyphs">3.0</text>
<text x="1860.5" y="93.2" font-size="53.3" fill="#000" textLength="17.5" lengthAdjust="spacingAndGlyphs">(</text>
<text x="1880.0" y="93.2" font-size="50" fill="#000" textLength="28.0" lengthAdjust="spacingAndGlyphs">b</text>
<text x="1910.5" y="93.2" font-size="53.3" fill="#000" textLength="17.5" lengthAdjust="spacingAndGlyphs">)</text>
<g transform="translate(1740.3 345.5) rotate(-90)">
<text x="-1.5" y="0.0" font-size="50" fill="#e50000" textLength="112.0" lengthAdjust="spacingAndGlyphs">MPE</text>
<text x="124.5" y="10.0" font-size="72" fill="#e50000" textLength="25.0" lengthAdjust="spacingAndGlyphs">/</text>
<text x="151.8" y="0.0" font-size="50" fill="#e50000" textLength="62.0" lengthAdjust="spacingAndGlyphs">eV</text>
</g>
<g transform="translate(3077.7 787.7) rotate(-90)">
<text x="-1.5" y="0.0" font-size="50" fill="#0000dd" textLength="175.0" lengthAdjust="spacingAndGlyphs">FWHM</text>
<text x="181.5" y="10.0" font-size="72" fill="#0000dd" textLength="28.0" lengthAdjust="spacingAndGlyphs">/</text>
<text x="211.7" y="0.0" font-size="50" fill="#0000dd" textLength="61.0" lengthAdjust="spacingAndGlyphs">eV</text>
</g>
<text x="2213.0" y="985.9" font-size="50" fill="#000" textLength="84.0" lengthAdjust="spacingAndGlyphs">a-C</text>
<text x="2297.0" y="987.0" font-size="48.4" fill="#000" textLength="96.0" lengthAdjust="spacingAndGlyphs">厚度</text>
<text x="2406.5" y="985.9" font-size="50" fill="#000" font-style="italic" textLength="34.0" lengthAdjust="spacingAndGlyphs">L</text>
<text x="2446.5" y="995.9" font-size="72" fill="#000" textLength="21.0" lengthAdjust="spacingAndGlyphs">/</text>
<text x="2472.5" y="985.9" font-size="50" fill="#000" textLength="72.5" lengthAdjust="spacingAndGlyphs">nm</text>
</svg>
</body></html>
